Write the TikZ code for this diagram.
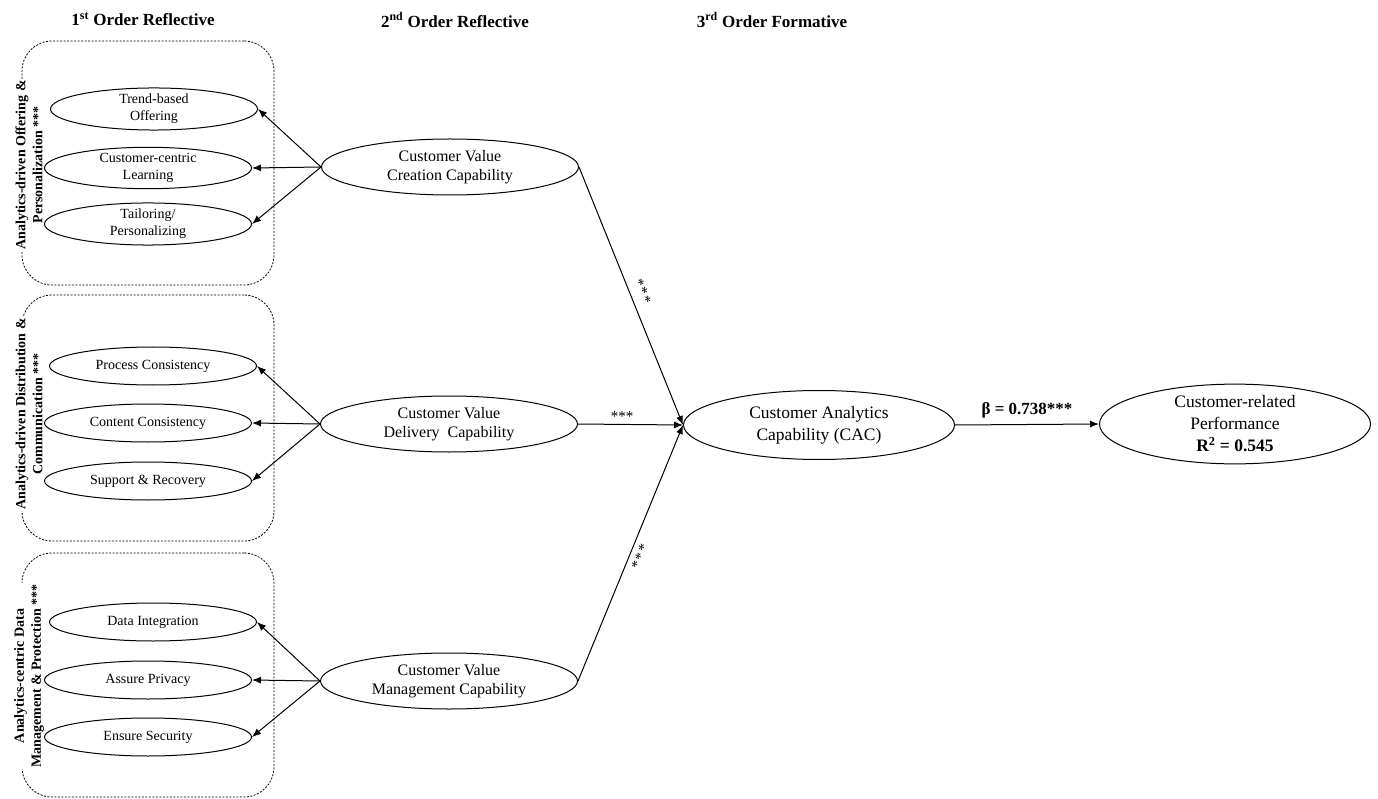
\documentclass[tikz,border=0pt]{standalone}
\usepackage{fontspec}
\setmainfont{Liberation Serif}
\usetikzlibrary{shapes.geometric,arrows.meta}
\begin{document}
\begin{tikzpicture}[x=1pt,y=-1pt,
  small/.style={ellipse, draw, line width=1pt, minimum width=207pt, minimum height=38pt, inner sep=0pt, align=center, font=\fontsize{14}{17}\selectfont},
  mid/.style={ellipse, draw, line width=1pt, minimum width=257pt, minimum height=56pt, inner sep=0pt, align=center, font=\fontsize{16}{19}\selectfont},
  big/.style={ellipse, draw, line width=1pt, minimum width=271pt, minimum height=69pt, inner sep=0pt, align=center, font=\fontsize{17.5}{22}\selectfont},
  grp/.style={draw, dash pattern=on 2pt off 1.5pt, rounded corners=30pt, line width=0.8pt, minimum width=252pt, inner sep=0pt},
  hdr/.style={font=\bfseries\fontsize{17}{20}\selectfont},
  glabel/.style={rotate=90, align=center, fill=white, inner sep=1pt, font=\bfseries\fontsize{14}{17}\selectfont},
  arr/.style={-{Latex[length=9pt,width=7pt]}, line width=1pt},
  star/.style={font=\fontsize{15}{15}\selectfont, inner sep=1pt}
]
\useasboundingbox (0,0) rectangle (1378,799);

% headers
\node[hdr] (h1) at (143,19) {1\textsuperscript{st} Order Reflective};
\node[hdr] (h2) at (455,20) {2\textsuperscript{nd} Order Reflective};
\node[hdr] (h3) at (772,20) {3\textsuperscript{rd} Order Formative};

% dashed group boxes
\node[grp, minimum height=244pt] (g1) at (148,163) {};
\node[grp, minimum height=246pt] (g2) at (148,418) {};
\node[grp, minimum height=244pt] (g3) at (148,675) {};

\node[glabel] (l1) at (29,165) {Analytics-driven Offering \&\\Personalization ***};
\node[glabel] (l2) at (29,414) {Analytics-driven Distribution \&\\Communication ***};
\node[glabel] (l3) at (29,676) {Analytics-centric Data\\Management \& Protection ***};

% first order
\node[small] (a1) at (154,109) {Trend-based\\Offering};
\node[small] (a2) at (148,168) {Customer-centric\\Learning};
\node[small] (a3) at (148,224) {Tailoring/\\Personalizing};

\node[small] (b1) at (153,366) {Process Consistency};
\node[small] (b2) at (148,423) {Content Consistency};
\node[small] (b3) at (148,481) {Support \& Recovery};

\node[small] (c1) at (153,622) {Data Integration};
\node[small] (c2) at (148,680) {Assure Privacy};
\node[small] (c3) at (148,737) {Ensure Security};

% second order
\node[mid] (cr) at (450,167) {Customer Value\\Creation Capability};
\node[mid] (dl) at (449,424) {Customer Value\\Delivery~~Capability};
\node[mid] (mg) at (449,681) {Customer Value\\Management Capability};

% third order
\node[big] (cac) at (819,425) {Customer Analytics\\Capability (CAC)};
\node[big] (perf) at (1235,424) {Customer-related\\Performance\\\textbf{R\textsuperscript{2} = 0.545}};

% reflective arrows
\foreach \t in {a1,a2,a3} \draw[arr] (cr.west) -- (\t.east);
\foreach \t in {b1,b2,b3} \draw[arr] (dl.west) -- (\t.east);
\foreach \t in {c1,c2,c3} \draw[arr] (mg.west) -- (\t.east);

% formative arrows
\draw[arr] (cr.east) -- node[star, sloped, above=6pt, pos=0.5] {*\kern1.5pt*\kern1.5pt*} (cac.west);
\draw[arr] (dl.east) -- node[star, above=1pt, pos=0.42] {***} (cac.west);
\draw[arr] (mg.east) -- node[star, sloped, below=4pt, pos=0.5] {*\kern1.5pt*\kern1.5pt*} (cac.west);

\draw[arr] (cac.east) -- node[above=3pt, font=\bfseries\fontsize{17}{20}\selectfont] {β = 0.738***} (perf.west);
\end{tikzpicture}
\end{document}
